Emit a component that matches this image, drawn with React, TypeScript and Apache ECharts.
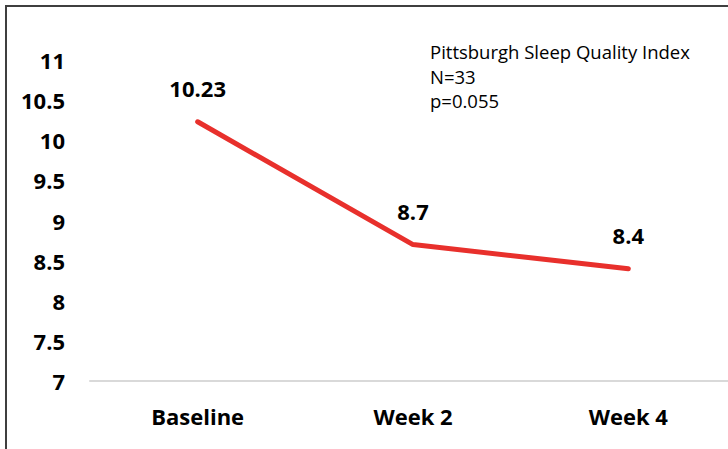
import React, { useEffect, useRef } from "react";
import * as echarts from "echarts";

const categories = ["Baseline", "Week 2", "Week 4"];
const values = [10.23, 8.7, 8.4];
const valueLabels = ["10.23", "8.7", "8.4"];
const annotationLines = ["Pittsburgh Sleep Quality Index", "N=33", "p=0.055"];

export default function App() {
  const ref = useRef<HTMLDivElement>(null);
  useEffect(() => {
    if (!ref.current) return;
    const chart = echarts.init(ref.current, undefined, { renderer: "svg" });
    chart.setOption({
      animation: false,
      backgroundColor: "#ffffff",
      grid: { left: 90, right: 4, top: 60, bottom: 68 },
      xAxis: {
        type: "category",
        data: categories,
        boundaryGap: true,
        axisLine: { show: true, lineStyle: { color: "#d9d9d9", width: 2 } },
        axisTick: { show: false },
        axisLabel: {
          color: "#000",
          fontFamily: "Open Sans",
          fontWeight: "bold",
          fontSize: 22,
          margin: 24,
        },
      },
      yAxis: {
        type: "value",
        min: 7,
        max: 11,
        interval: 0.5,
        axisLine: { show: false },
        axisTick: { show: false },
        splitLine: { show: false },
        axisLabel: {
          color: "#000",
          fontFamily: "Open Sans",
          fontWeight: "bold",
          fontSize: 22,
          margin: 25,
        },
      },
      series: [
        {
          type: "line",
          data: values,
          showSymbol: true,
          symbol: "circle",
          symbolSize: 0,
          itemStyle: { color: "#e8302c" },
          lineStyle: { color: "#e8302c", width: 5, cap: "round" },
          label: {
            show: true,
            position: "top",
            distance: 23,
            color: "#000",
            fontFamily: "Open Sans",
            fontWeight: "bold",
            fontSize: 22,
            formatter: (p: any) => valueLabels[p.dataIndex],
          },
        },
      ],
      graphic: [
        {
          type: "rect",
          shape: { x: 6, y: 6, width: 900, height: 900 },
          style: { fill: "none", stroke: "#3f3f3f", lineWidth: 2 },
          silent: true,
        },
        ...annotationLines.map((t, i) => ({
          type: "text",
          left: 430,
          top: 42 + i * 24.5,
          style: {
            text: t,
            fill: "#000",
            font: "18.5px 'Open Sans'",
          },
        })),
      ],
    });
    return () => chart.dispose();
  }, []);
  return (
    <div style={{ position: "absolute", left: 0, top: 0, width: 728, height: 449, overflow: "hidden" }}>
      <div ref={ref} style={{ width: 740, height: 449 }} />
    </div>
  );
}
